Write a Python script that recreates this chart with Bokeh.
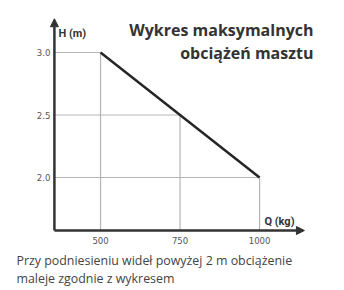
from bokeh.plotting import figure
from bokeh.models import Range1d, Arrow, NormalHead
from bokeh.core.properties import value
from bokeh.embed import file_html
from bokeh.resources import INLINE

# Load chart: lifting height vs. maximum load
load_kg = [500, 750, 1000]
height_m = [3.0, 2.5, 2.0]
x_tick_labels = ["500", "750", "1000"]
y_tick_labels = ["3.0", "2.5", "2.0"]

title_lines = ["Wykres maksymalnych", "obciążeń masztu"]
note_lines = ["Przy podniesieniu wideł powyżej 2 m obciążenie",
              "maleje zgodnie z wykresem"]

W, H = 344, 290
# data window covering the whole canvas
X0, X1 = 185.5, 1267.0
Y0, Y1 = 1.096, 3.416
# axis origin and arrow tips
AX_X, AX_Y = 355.0, 1.576
AX_X_END, AX_Y_END = 1141.0, 3.27

sx = W / (X1 - X0)
sy = H / (Y1 - Y0)


def px(x):
    return X0 + x / sx


def py(y):
    return Y1 - y / sy


p = figure(width=W, height=H, x_range=Range1d(X0, X1), y_range=Range1d(Y0, Y1),
           output_backend="svg", toolbar_location=None, min_border=0,
           x_axis_type=None, y_axis_type=None)
p.grid.visible = False
p.outline_line_color = None
p.background_fill_color = "white"
p.border_fill_color = "white"

grid_color = "#b5b5b5"
# drop lines under each point of the curve
p.segment(x0=[AX_X] * len(load_kg), y0=height_m, x1=load_kg, y1=height_m,
          line_color=grid_color, line_width=1.2)
p.segment(x0=load_kg, y0=[AX_Y] * len(load_kg), x1=load_kg, y1=height_m,
          line_color=grid_color, line_width=1.2)

# load curve
p.line(load_kg, height_m, line_color="#262626", line_width=2.5)

# axes with arrowheads
axis_color = "#333333"
p.add_layout(Arrow(x_start=AX_X, y_start=AX_Y, x_end=AX_X, y_end=AX_Y_END,
                   line_color=axis_color, line_width=2.5,
                   end=NormalHead(size=8, fill_color=axis_color, line_color=axis_color)))
p.add_layout(Arrow(x_start=AX_X, y_start=AX_Y, x_end=AX_X_END, y_end=AX_Y,
                   line_color=axis_color, line_width=2.5,
                   end=NormalHead(size=8, fill_color=axis_color, line_color=axis_color)))

tick_font = value("'DejaVu Sans Condensed', 'Liberation Sans Narrow', Roboto, sans-serif")
# tick labels
p.text(x=[AX_X - 4 / sx] * 3, y=height_m, text=y_tick_labels,
       text_font=tick_font, text_font_size="9.5px", text_color="#555555",
       text_align="right", text_baseline="middle")
p.text(x=load_kg, y=[AX_Y - 6 / sy] * 3, text=x_tick_labels,
       text_font=tick_font, text_font_size="9.5px", text_color="#555555",
       text_align="center", text_baseline="top")

# axis titles
p.text(x=[px(58)], y=[py(33)], text=["H (m)"], text_font=value("Roboto"),
       text_font_style="bold", text_font_size="11px", text_color="#333333",
       text_align="left", text_baseline="middle")
p.text(x=[px(294)], y=[py(221)], text=["Q (kg)"], text_font=value("Roboto"),
       text_font_style="bold", text_font_size="11px", text_color="#333333",
       text_align="right", text_baseline="middle")

# chart title
p.text(x=[px(313)] * 2, y=[py(29), py(52)], text=title_lines,
       text_font=value("Open Sans"), text_font_style="bold",
       text_font_size="16px", text_color="#333333",
       text_align="right", text_baseline="middle")

# note under the chart
p.text(x=[px(16)] * 2, y=[py(260), py(278)], text=note_lines,
       text_font=value("Open Sans"), text_font_size="12.4px", text_color="#444444",
       text_align="left", text_baseline="middle")

open("out.html", "w").write(file_html(p, INLINE))
